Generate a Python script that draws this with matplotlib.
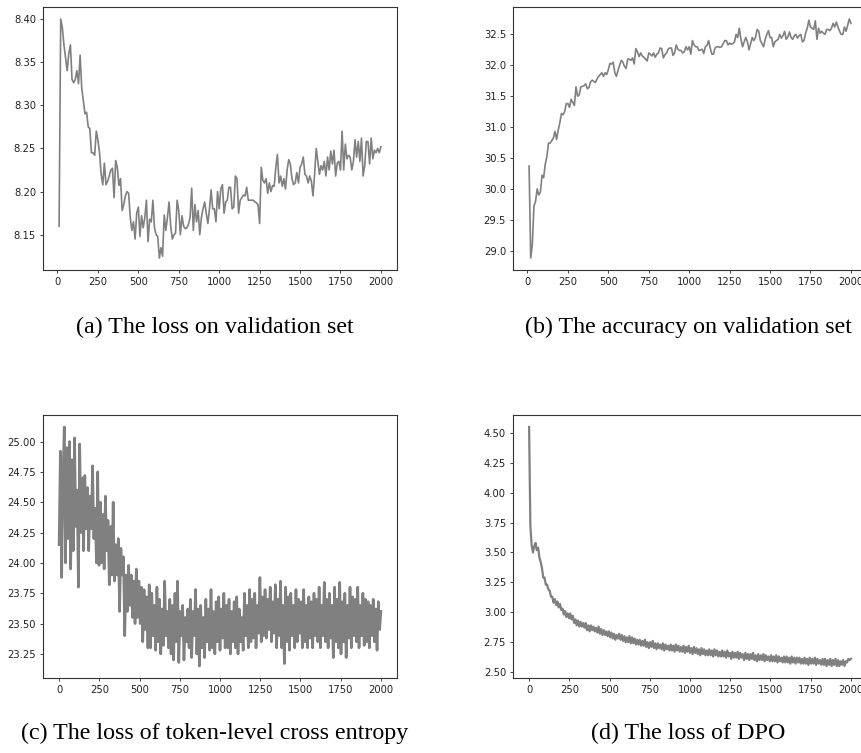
import numpy as np
import matplotlib
matplotlib.use("Agg")
import matplotlib.pyplot as plt

# (a) loss on validation set, every 10 steps from 10 to 2000
val_loss = [
    8.16, 8.40, 8.39, 8.37, 8.355, 8.34, 8.36, 8.37, 8.33, 8.326,
    8.33, 8.34, 8.325, 8.358, 8.32, 8.305, 8.29, 8.292, 8.275, 8.273,
    8.245, 8.245, 8.242, 8.27, 8.26, 8.245, 8.22, 8.208, 8.233, 8.208,
    8.212, 8.218, 8.225, 8.227, 8.193, 8.236, 8.228, 8.207, 8.215, 8.178,
    8.185, 8.195, 8.2, 8.198, 8.17, 8.155, 8.165, 8.145, 8.175, 8.182,
    8.148, 8.172, 8.158, 8.17, 8.19, 8.142, 8.168, 8.165, 8.19, 8.158,
    8.15, 8.148, 8.123, 8.135, 8.125, 8.173, 8.155, 8.17, 8.188, 8.16,
    8.145, 8.15, 8.152, 8.19, 8.178, 8.15, 8.172, 8.16, 8.157, 8.158,
    8.162, 8.17, 8.204, 8.155, 8.185, 8.165, 8.178, 8.15, 8.17, 8.18,
    8.188, 8.175, 8.163, 8.18, 8.202, 8.18, 8.18, 8.165, 8.2, 8.18,
    8.203, 8.208, 8.175, 8.188, 8.19, 8.205, 8.205, 8.18, 8.182, 8.218,
    8.215, 8.175, 8.19, 8.193, 8.196, 8.195, 8.205, 8.19, 8.19, 8.19,
    8.19, 8.188, 8.187, 8.185, 8.163, 8.228, 8.213, 8.21, 8.215, 8.198,
    8.21, 8.2, 8.207, 8.206, 8.228, 8.243, 8.21, 8.218, 8.206, 8.215,
    8.203, 8.225, 8.237, 8.232, 8.215, 8.208, 8.21, 8.222, 8.21, 8.228,
    8.232, 8.24, 8.22, 8.218, 8.21, 8.218, 8.212, 8.195, 8.22, 8.25,
    8.235, 8.22, 8.23, 8.225, 8.235, 8.218, 8.24, 8.225, 8.247, 8.232,
    8.248, 8.218, 8.233, 8.235, 8.225, 8.27, 8.225, 8.255, 8.238, 8.242,
    8.24, 8.225, 8.235, 8.26, 8.24, 8.258, 8.235, 8.262, 8.218, 8.23,
    8.258, 8.258, 8.232, 8.262, 8.238, 8.248, 8.245, 8.25, 8.245, 8.252,
]

# (b) accuracy on validation set, every 10 steps from 10 to 2000
val_acc = [
    30.37, 28.88, 29.1, 29.72, 29.8, 30.0, 29.9, 29.95, 30.22, 30.18,
    30.4, 30.52, 30.74, 30.74, 30.78, 30.82, 30.93, 30.8, 30.95, 31.07,
    31.22, 31.2, 31.25, 31.38, 31.38, 31.32, 31.45, 31.4, 31.35, 31.65,
    31.5, 31.52, 31.65, 31.66, 31.67, 31.7, 31.62, 31.64, 31.73, 31.76,
    31.74, 31.72, 31.78, 31.82, 31.85, 31.88, 31.82, 31.88, 31.85, 31.93,
    32.03, 32.02, 32.05, 31.88, 31.82, 31.92, 32.0, 32.08, 32.05, 31.98,
    31.95, 32.1, 32.1, 32.08, 32.12, 32.02, 32.27, 32.22, 32.14, 32.2,
    32.15, 32.13, 32.1, 32.07, 32.2, 32.18, 32.15, 32.2, 32.13, 32.18,
    32.2, 32.28, 32.27, 32.12, 32.17, 32.2, 32.26, 32.28, 32.28, 32.16,
    32.2, 32.33, 32.26, 32.24, 32.24, 32.2, 32.22, 32.3, 32.25, 32.3,
    32.18, 32.4, 32.33, 32.3, 32.3, 32.24, 32.25, 32.26, 32.19, 32.3,
    32.32, 32.4, 32.28, 32.18, 32.18, 32.28, 32.3, 32.3, 32.29, 32.3,
    32.35, 32.4, 32.4, 32.33, 32.36, 32.34, 32.35, 32.38, 32.5, 32.45,
    32.6, 32.42, 32.3, 32.38, 32.45, 32.38, 32.25, 32.35, 32.45, 32.4,
    32.45, 32.58, 32.55, 32.4, 32.35, 32.3, 32.42, 32.5, 32.56, 32.45,
    32.45, 32.3, 32.38, 32.4, 32.42, 32.5, 32.44, 32.48, 32.55, 32.42,
    32.46, 32.54, 32.45, 32.42, 32.48, 32.5, 32.44, 32.48, 32.5, 32.38,
    32.4, 32.52, 32.6, 32.73, 32.62, 32.6, 32.58, 32.72, 32.42, 32.6,
    32.52, 32.55, 32.52, 32.5, 32.58, 32.58, 32.56, 32.6, 32.68, 32.62,
    32.7, 32.62, 32.55, 32.5, 32.5, 32.62, 32.55, 32.65, 32.75, 32.68,
]

# (c) token-level cross entropy loss, sampled every 8 steps from 0
ce_loss = [
    24.15, 24.92, 23.88, 24.7, 25.12, 24.0, 24.95, 24.2, 25.0, 23.95,
    24.85, 24.1, 25.03, 24.3, 24.6, 23.8, 24.98, 24.25, 24.7, 24.1,
    24.72, 24.28, 24.62, 24.1, 24.55, 24.28, 24.8, 24.2, 24.45, 24.0,
    24.75, 23.98, 24.5, 24.0, 24.4, 23.95, 24.55, 24.1, 24.35, 23.82,
    24.3, 23.9, 24.5, 23.85, 24.15, 23.9, 24.2, 23.6, 24.12, 23.9,
    24.05, 23.4, 23.9, 23.6, 23.98, 23.65, 23.9, 23.55, 23.85, 23.5,
    23.95, 23.55, 23.85, 23.5, 23.8, 23.35, 23.78, 23.45, 23.72, 23.3,
    23.82, 23.3, 23.75, 23.4, 23.65, 23.28, 23.8, 23.35, 23.7, 23.25,
    23.62, 23.32, 23.85, 23.4, 23.6, 23.3, 23.7, 23.25, 23.65, 23.2,
    23.75, 23.35, 23.85, 23.18, 23.6, 23.4, 23.65, 23.2, 23.55, 23.35,
    23.62, 23.3, 23.7, 23.22, 23.6, 23.4, 23.78, 23.25, 23.62, 23.15,
    23.65, 23.3, 23.55, 23.22, 23.7, 23.35, 23.62, 23.28, 23.78, 23.3,
    23.6, 23.25, 23.68, 23.35, 23.72, 23.28, 23.62, 23.38, 23.75, 23.3,
    23.65, 23.3, 23.7, 23.25, 23.6, 23.35, 23.68, 23.3, 23.72, 23.25,
    23.62, 23.35, 23.55, 23.28, 23.75, 23.4, 23.65, 23.3, 23.78, 23.35,
    23.7, 23.38, 23.75, 23.3, 23.65, 23.42, 23.88, 23.35, 23.72, 23.4,
    23.78, 23.38, 23.7, 23.45, 23.8, 23.35, 23.68, 23.42, 23.82, 23.3,
    23.7, 23.4, 23.85, 23.3, 23.65, 23.17, 23.8, 23.35, 23.72, 23.28,
    23.75, 23.4, 23.65, 23.3, 23.78, 23.35, 23.7, 23.42, 23.68, 23.3,
    23.78, 23.35, 23.65, 23.3, 23.72, 23.38, 23.68, 23.3, 23.75, 23.4,
    23.7, 23.35, 23.8, 23.3, 23.65, 23.4, 23.84, 23.35, 23.7, 23.3,
    23.75, 23.38, 23.65, 23.22, 23.8, 23.35, 23.7, 23.3, 23.84, 23.25,
    23.68, 23.35, 23.75, 23.22, 23.65, 23.38, 23.8, 23.3, 23.72, 23.4,
    23.7, 23.35, 23.8, 23.3, 23.65, 23.4, 23.75, 23.32, 23.7, 23.35,
    23.68, 23.3, 23.65, 23.4, 23.7, 23.35, 23.62, 23.28, 23.68, 23.45, 23.6,
]

# (d) DPO loss, sampled every 8 steps from 0
dpo_loss = [
    4.55, 3.72, 3.56, 3.5, 3.55, 3.58, 3.52, 3.54, 3.46, 3.42,
    3.37, 3.29, 3.29, 3.23, 3.23, 3.19, 3.18, 3.13, 3.13, 3.08,
    3.11, 3.06, 3.09, 3.04, 3.07, 3.02, 3.03, 2.98, 3.01, 2.96,
    2.99, 2.95, 2.99, 2.94, 2.97, 2.91, 2.94, 2.89, 2.93, 2.88,
    2.92, 2.88, 2.91, 2.87, 2.91, 2.85, 2.89, 2.84, 2.89, 2.85,
    2.88, 2.84, 2.87, 2.83, 2.88, 2.82, 2.86, 2.81, 2.85, 2.81,
    2.84, 2.8, 2.84, 2.79, 2.83, 2.78, 2.82, 2.77, 2.81, 2.78,
    2.82, 2.77, 2.81, 2.76, 2.8, 2.75, 2.79, 2.75, 2.8, 2.74,
    2.79, 2.74, 2.78, 2.73, 2.77, 2.73, 2.77, 2.72, 2.76, 2.72,
    2.77, 2.71, 2.75, 2.7, 2.75, 2.71, 2.76, 2.7, 2.74, 2.69,
    2.74, 2.7, 2.73, 2.69, 2.74, 2.68, 2.73, 2.69, 2.72, 2.68,
    2.73, 2.68, 2.72, 2.67, 2.73, 2.68, 2.72, 2.67, 2.71, 2.67,
    2.72, 2.66, 2.71, 2.67, 2.72, 2.66, 2.7, 2.65, 2.71, 2.66,
    2.7, 2.65, 2.69, 2.64, 2.7, 2.65, 2.69, 2.64, 2.68, 2.64,
    2.69, 2.64, 2.68, 2.63, 2.69, 2.64, 2.68, 2.63, 2.67, 2.63,
    2.68, 2.63, 2.67, 2.62, 2.68, 2.63, 2.66, 2.61, 2.67, 2.62,
    2.66, 2.62, 2.67, 2.61, 2.66, 2.62, 2.65, 2.6, 2.66, 2.61,
    2.65, 2.6, 2.65, 2.61, 2.66, 2.6, 2.64, 2.59, 2.65, 2.6,
    2.64, 2.6, 2.65, 2.59, 2.64, 2.6, 2.63, 2.59, 2.64, 2.59,
    2.63, 2.59, 2.64, 2.58, 2.63, 2.59, 2.62, 2.58, 2.63, 2.58,
    2.63, 2.58, 2.62, 2.57, 2.63, 2.58, 2.62, 2.57, 2.62, 2.58,
    2.62, 2.57, 2.61, 2.57, 2.62, 2.57, 2.61, 2.56, 2.62, 2.57,
    2.61, 2.57, 2.62, 2.56, 2.61, 2.57, 2.6, 2.56, 2.61, 2.56,
    2.61, 2.55, 2.6, 2.56, 2.61, 2.55, 2.6, 2.56, 2.61, 2.55,
    2.6, 2.55, 2.59, 2.56, 2.6, 2.55, 2.59, 2.58, 2.61, 2.6, 2.61,
]

captions = [
    "(a) The loss on validation set",
    "(b) The accuracy on validation set",
    "(c) The loss of token-level cross entropy",
    "(d) The loss of DPO",
]

# step positions for each series
x_val = np.arange(10, 2001, 10)[:len(val_loss)]
x_acc = np.arange(10, 2001, 10)[:len(val_acc)]
x_ce = np.linspace(0, 2000, len(ce_loss))
x_dpo = np.linspace(0, 2000, len(dpo_loss))

fig = plt.figure(figsize=(8.61, 7.53), dpi=100)

W, H = 861, 753
def px_axes(left, top, right, bottom):
    return fig.add_axes([left / W, 1 - bottom / H, (right - left) / W, (bottom - top) / H])

ax_a = px_axes(43, 7, 397, 270)
ax_b = px_axes(513, 7, 867, 270)
ax_c = px_axes(43, 415, 397, 678)
ax_d = px_axes(513, 415, 867, 678)

series = [(ax_a, x_val, val_loss, 1.2), (ax_b, x_acc, val_acc, 1.2),
          (ax_c, x_ce, ce_loss, 1.9), (ax_d, x_dpo, dpo_loss, 1.6)]

for ax, x, y, lw in series:
    ax.plot(x, y, color="grey", lw=lw)
    ax.tick_params(labelsize=7.2, length=2.5, width=0.6, colors="#222222", pad=2.5)
    for sp in ax.spines.values():
        sp.set_linewidth(0.8)
        sp.set_color("#333333")

# captions under each panel
cap_font = dict(family="Liberation Serif", fontsize=17.3, ha="center", va="center")
fig.text(215 / W, 1 - 327 / H, captions[0], **cap_font)
fig.text(688 / W, 1 - 327 / H, captions[1], **cap_font)
fig.text(215 / W, 1 - 733 / H, captions[2], **cap_font)
fig.text(688 / W, 1 - 733 / H, captions[3], **cap_font)

fig.savefig("out.png", dpi=100)
